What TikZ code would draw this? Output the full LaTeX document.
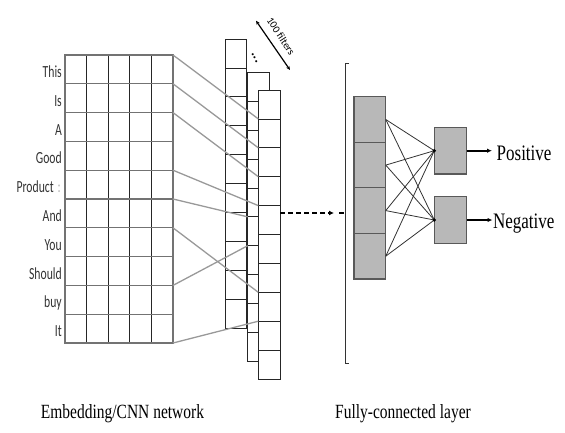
\documentclass[tikz,border=0pt]{standalone}
\usepackage{fontspec}
\usepackage{graphicx}
\setmainfont{Liberation Serif}
\newfontfamily\lblfont{Carlito}
\usetikzlibrary{arrows.meta}
\begin{document}
\begin{tikzpicture}[x=1pt,y=-1pt,
  gridh/.style={draw=black!55,line width=1.3pt},
  gridv/.style={draw=black!85,line width=0.8pt},
  gridout/.style={draw=black!55,line width=1.6pt},
  fcell/.style={draw=black!85,fill=white,line width=0.8pt},
  link/.style={draw=black!40,line width=1.3pt},
  fcbox/.style={draw=black!65,fill=black!28,line width=1.2pt,minimum width=31.7pt,inner sep=0pt,outer sep=0pt},
  fcline/.style={draw=black!80,line width=0.8pt},
  outarrow/.style={draw=black,line width=1.6pt,-{Latex[length=5pt,width=4.5pt]}},
  wordlbl/.style={anchor=base east,inner sep=0pt,text=black!80,font=\lblfont\fontsize{11.7}{13}\selectfont},
  bigtxt/.style={anchor=base west,inner sep=0pt,font=\fontsize{17}{20}\selectfont},
  captxt/.style={anchor=base west,inner sep=0pt,font=\fontsize{15.5}{18}\selectfont}
]
\useasboundingbox (0,0) rectangle (565,432);

% ---------- embedding grid ----------
\foreach \j in {1,...,4}
  \draw[gridv] ({65+\j*21.6},55) -- ({65+\j*21.6},343);
\foreach \i in {1,...,9}
  \draw[gridh] (65,{55+\i*28.8}) -- (173,{55+\i*28.8});
\draw[gridout] (65,55) rectangle (173,343);
\foreach \i in {0,...,10}
  \coordinate (g\i) at (173,{55+\i*28.8});

% word labels
\foreach \i/\w in {0/This,1/Is,2/A,3/Good,5/And,6/You,7/Should,8/buy,9/It}
  \node[wordlbl] (w\i) at (62,{55+\i*28.8+14.4+8}) {\scalebox{1}[1.45]{\w}};
\node[wordlbl] (w4) at (54,{55+4*28.8+14.4+8}) {\scalebox{1}[1.45]{Product}};
\node[wordlbl,text=black!30] (w4b) at (61,{55+4*28.8+14.4+8}) {\scalebox{1}[1.45]{:}};

% ---------- filter columns ----------
\foreach \i in {0,...,9}
  \draw[fcell] (225,{39+\i*28.9}) rectangle (246.7,{39+(\i+1)*28.9});
\foreach \i in {0,...,9}
  \draw[fcell] (247.7,{72.7+\i*28.83}) rectangle (269,{72.7+(\i+1)*28.83});
\foreach \i in {0,...,9}
  \draw[fcell] (258.3,{90+\i*28.9}) rectangle (280,{90+(\i+1)*28.9});
\foreach \i in {0,...,10} {
  \coordinate (cb\i) at (247.7,{72.7+\i*28.83});
  \coordinate (cc\i) at (258.3,{90+\i*28.9});
}

% links grid -> filters
\draw[link] (g0) -- (cc1);
\draw[link] (g1) -- (cc2);
\draw[link] (g2) -- (cc3);
\draw[link] (g4) -- (cc4);
\draw[link] (g5) -- (cb5);
\draw[link] (g6) -- (cc7);
\draw[link] (g8) -- (cb6);
\draw[link] (g10) -- (cc8);

% 100 filters arrow and dots
\coordinate (fa) at (256,20.7);
\coordinate (fb) at (290,70);
\draw[line width=1.2pt,{Stealth[length=4pt,width=3.5pt]}-{Stealth[length=4pt,width=3.5pt]}] (fa) -- (fb);
\node[rotate=-57,inner sep=0pt,font=\lblfont\fontsize{10.5}{12}\selectfont] (ft) at (281,36) {100 filters};
\node[rotate=-62,inner sep=0pt,font=\lblfont\bfseries\fontsize{14}{14}\selectfont] (dots) at (254.5,58) {...};

% dashed arrow and bracket
\coordinate (d0) at (280,213);
\coordinate (d1) at (334,213);
\coordinate (d2) at (339,213);
\coordinate (d3) at (344,213);
\draw[line width=1.8pt,dash pattern=on 5pt off 3pt,-{Latex[length=5pt,width=5pt]}] (d0) -- (d1);
\draw[line width=1.8pt] (d2) -- (d3);
\coordinate (bt) at (349,63);
\coordinate (bb) at (349,363);
\draw[black!80,line width=1pt] (bt) -- (345,63) -- (345,363) -- (bb);

% ---------- fully connected ----------
\foreach \i/\y in {1/119.5,2/165.1,3/210.6,4/256.2}
  \node[fcbox,minimum height=45.6pt] (fc\i) at (369.9,\y) {};
\node[fcbox,minimum width=32.4pt,minimum height=46.7pt] (o1) at (450.5,150.7) {};
\node[fcbox,minimum width=32.4pt,minimum height=46.7pt] (o2) at (450.5,220) {};
\foreach \i in {1,...,4} {
  \draw[fcline] (fc\i.east) -- (o1.west);
  \draw[fcline] (fc\i.east) -- (o2.west);
}
\fill (o1.west) circle (1.8);
\fill (o2.west) circle (1.8);

\coordinate (pa) at (492,150.7);
\coordinate (na) at (492.5,220);
\draw[outarrow] (o1.east) -- (pa);
\draw[outarrow] (o2.east) -- (na);
\node[bigtxt] (pos) at (496.5,160) {\scalebox{1}[1.3]{Positive}};
\node[bigtxt] (neg) at (492.8,228.3) {\scalebox{1}[1.3]{Negative}};

% captions
\node[captxt] (cap1) at (40.7,418.3) {\scalebox{1}[1.3]{Embedding/CNN network}};
\node[captxt] (cap2) at (335,418.3) {\scalebox{1}[1.3]{Fully-connected layer}};
\end{tikzpicture}
\end{document}
